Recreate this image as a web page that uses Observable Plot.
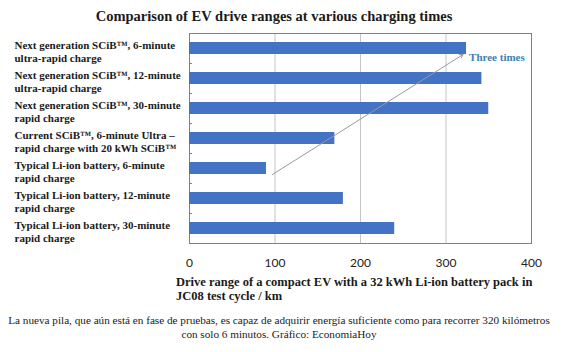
<!DOCTYPE html>
<html><head><meta charset="utf-8">
<script src="https://cdn.jsdelivr.net/npm/d3@7"></script>
<script src="https://cdn.jsdelivr.net/npm/@observablehq/plot@0.6"></script>
<style>
body{margin:0;background:#fff;width:564px;height:352px;overflow:hidden;font-family:"Liberation Serif","Times New Roman",serif;color:#1a1a1a;position:relative;}
#title{position:absolute;left:0;top:6px;width:548px;text-align:center;font-weight:bold;font-size:14.5px;line-height:20px;font-family:"Liberation Serif",serif;}
#chart{position:absolute;left:0;top:30px;}
#xtitle{position:absolute;left:176px;top:275px;font-weight:bold;font-size:12.5px;line-height:14px;white-space:nowrap;font-family:"Liberation Serif",serif;}
#caption{position:absolute;left:0;top:313px;width:558px;text-align:center;font-size:11.2px;line-height:14px;font-family:"Liberation Serif",serif;white-space:nowrap;}
</style></head><body>
<div id="title">Comparison of EV drive ranges at various charging times</div>
<div id="chart"></div>
<div id="xtitle">Drive range of a compact EV with a 32 kWh Li-ion battery pack in<br>JC08 test cycle / km</div>
<div id="caption">La nueva pila, que aún está en fase de pruebas, es capaz de adquirir energía suficiente como para recorrer 320 kilómetros<br>con solo 6 minutos. Gráfico: EconomiaHoy</div>
<script>
const categories = [
  "Next generation SCiB™, 6-minute\nultra-rapid charge",
  "Next generation SCiB™, 12-minute\nultra-rapid charge",
  "Next generation SCiB™, 30-minute\nrapid charge",
  "Current SCiB™, 6-minute Ultra –\nrapid charge with 20 kWh SCiB™",
  "Typical Li-ion battery, 6-minute\nrapid charge",
  "Typical Li-ion battery, 12-minute\nrapid charge",
  "Typical Li-ion battery, 30-minute\nrapid charge"
];
const ranges = [324, 342, 350, 170, 90, 180, 240];
const xTicks = [0, 100, 200, 300, 400];
const gridLines = [100, 200, 300];
const arrowFrom = {x: 97, y: categories[4]};
const arrowTo = {x: 320, y: categories[0]};
const noteText = "Three times";
const noteX = 327;

const data = categories.map((c, i) => ({label: c, range: ranges[i]}));

const chart = Plot.plot({
  width: 564,
  height: 240,
  marginTop: 3,
  marginBottom: 27,
  marginLeft: 189,
  marginRight: 33,
  x: {domain: [0, 400], label: null},
  y: {domain: categories, paddingInner: 0.6, paddingOuter: 0.3, label: null},
  style: {background: "transparent"},
  marks: [
    Plot.ruleX(gridLines, {stroke: "#c4c4c4", strokeWidth: 1}),
    Plot.frame({stroke: "#808080", strokeWidth: 1}),
    Plot.ruleY(categories.slice(0, -1), {x1: 0, x2: 3.5, dy: 15, stroke: "#808080"}),
    Plot.barX(data, {x: "range", y: "label", fill: "#4472c4"}),
    Plot.axisX({ticks: xTicks, label: null, tickSize: 0, tickPadding: 15, fontSize: 12, fontFamily: "Lato, 'Open Sans', sans-serif", fill: "#222"}),
    Plot.axisY({label: null, tickSize: 0, tickPadding: 0, textAnchor: "start", dx: -175, dy: 3, fontSize: 11, fontWeight: "bold", fontFamily: "'Liberation Serif', serif", fill: "#1a1a1a", lineHeight: 1.15}),
    Plot.arrow([0], {x1: () => arrowFrom.x, y1: () => arrowFrom.y, x2: () => arrowTo.x, y2: () => arrowTo.y, dy: 6, stroke: "#9a9a9a", strokeWidth: 1, headLength: 6}),
    Plot.text([noteText], {x: () => noteX, y: () => categories[0], text: d => d, dy: 9, textAnchor: "start", fill: "#3d7fb5", fontSize: 11, fontWeight: "bold", fontFamily: "'Liberation Serif', serif"})
  ]
});
document.getElementById("chart").appendChild(chart);
</script>
</body></html>
